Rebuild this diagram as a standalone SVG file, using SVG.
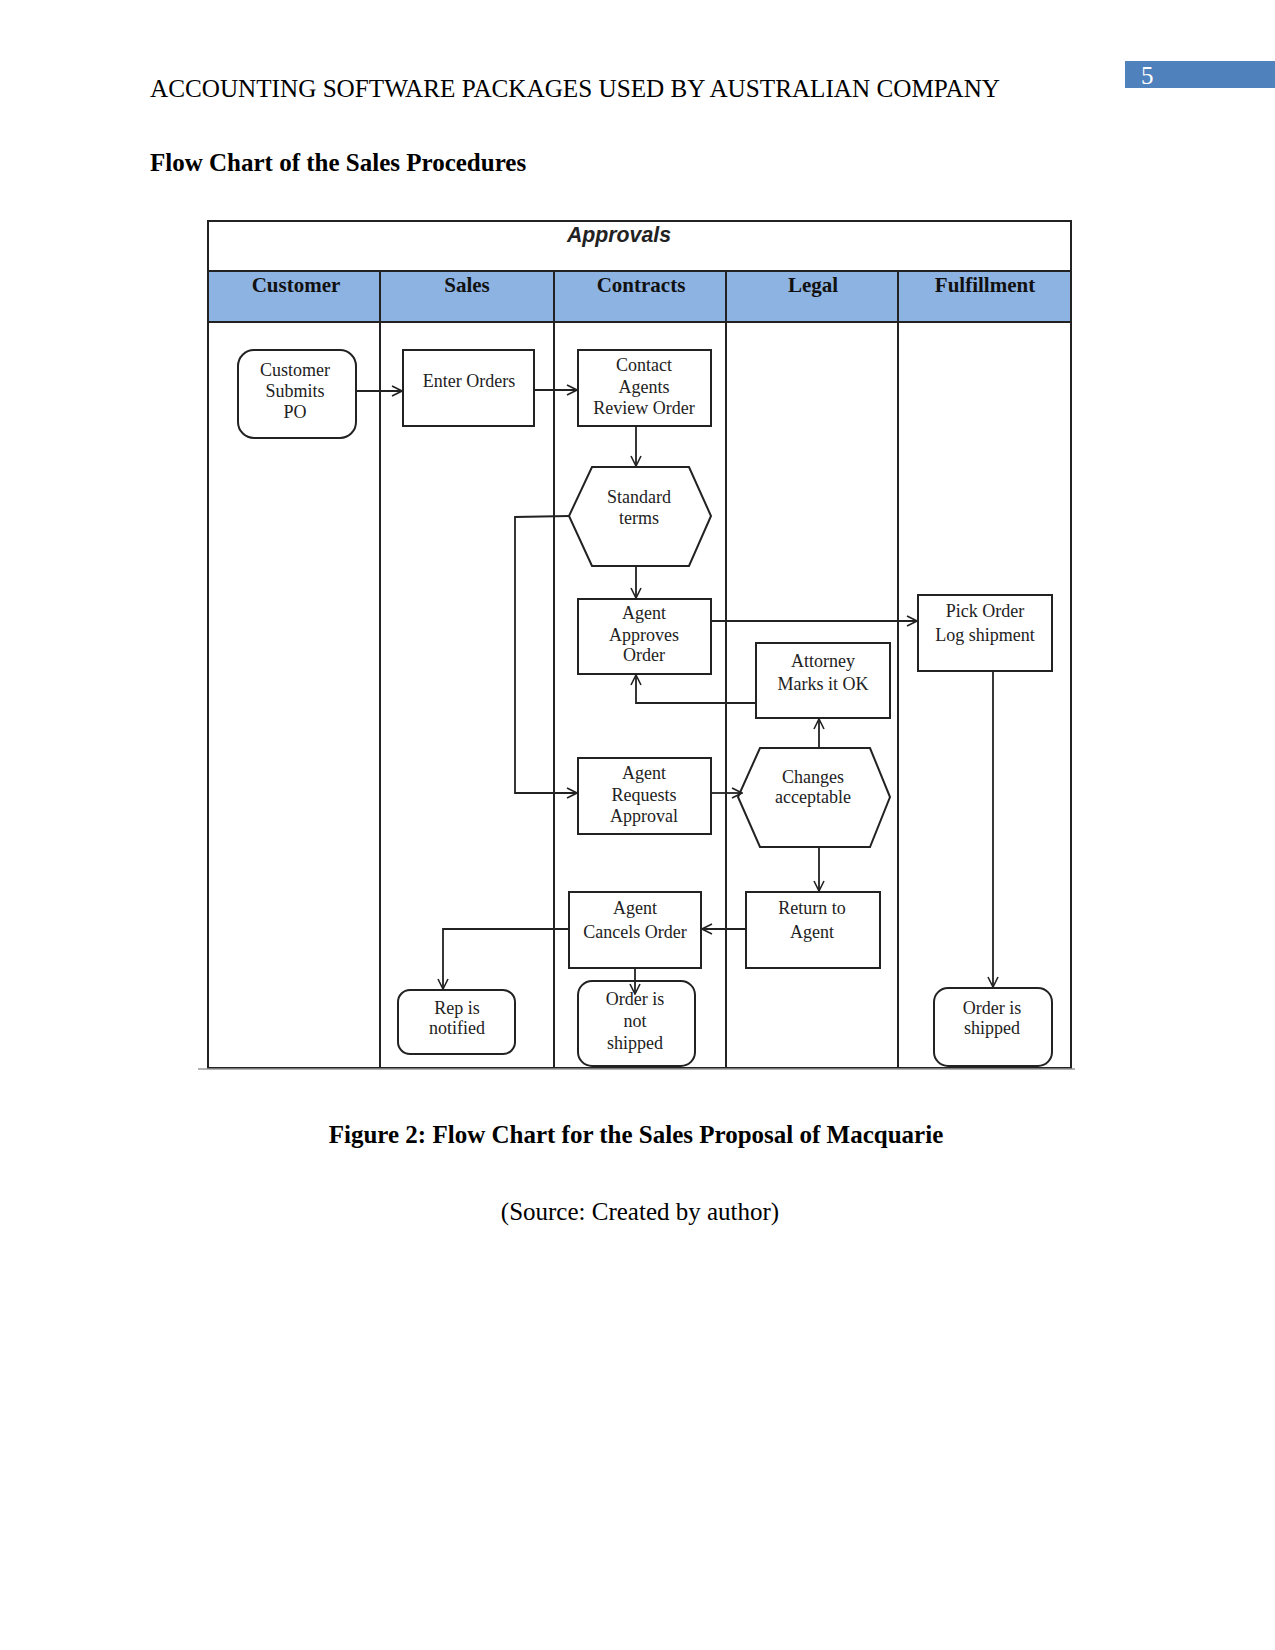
<svg xmlns="http://www.w3.org/2000/svg" width="1275" height="1650" viewBox="0 0 1275 1650">
<defs>
<style>
.page{font-family:"Liberation Serif","Times New Roman",serif;font-size:25px;fill:#000}
.bold{font-weight:bold}
.col{font-family:"Liberation Serif",serif;font-weight:bold;font-size:21px;fill:#111;text-anchor:middle}
.node{fill:#fff;stroke:#222;stroke-width:2}
.nt{font-family:"Liberation Serif",serif;font-size:18px;fill:#222;text-anchor:middle;dominant-baseline:central}
.grid{fill:none;stroke:#222;stroke-width:2}
.conn{fill:none;stroke:#222;stroke-width:1.8}
</style>
<marker id="arr" viewBox="0 0 12 12" refX="11" refY="6" markerWidth="12" markerHeight="12" markerUnits="userSpaceOnUse" orient="auto">
<polyline points="1,1 11,6 1,11" fill="none" stroke="#222" stroke-width="1.6"/>
</marker>
</defs>
<rect width="1275" height="1650" fill="#fff"/>

<!-- page header -->
<text class="page" x="150" y="97" textLength="850" lengthAdjust="spacingAndGlyphs">ACCOUNTING SOFTWARE PACKAGES USED BY AUSTRALIAN COMPANY</text>
<rect x="1125" y="61" width="150" height="27" fill="#4F81BD"/>
<text x="1141" y="84" font-family="Liberation Serif,serif" font-size="25" fill="#fff">5</text>
<text class="page bold" x="150" y="171">Flow Chart of the Sales Procedures</text>

<!-- swimlane frame -->
<g id="frame">
<rect x="208" y="221" width="863" height="847" fill="#fff" stroke="#222" stroke-width="2"/>
<rect x="208" y="271" width="863" height="51" fill="#8DB3E2"/>
<line class="grid" x1="208" y1="271" x2="1071" y2="271"/>
<line class="grid" x1="208" y1="322" x2="1071" y2="322"/>
<line class="grid" x1="380" y1="271" x2="380" y2="1068"/>
<line class="grid" x1="554" y1="271" x2="554" y2="1068"/>
<line class="grid" x1="726" y1="271" x2="726" y2="1068"/>
<line class="grid" x1="898" y1="271" x2="898" y2="1068"/>
<rect x="208" y="221" width="863" height="847" fill="none" stroke="#222" stroke-width="2"/>
<line x1="198" y1="1069" x2="1075" y2="1069" stroke="#999" stroke-width="1.5"/>
<text x="619" y="242" font-family="Liberation Sans,Arial,sans-serif" font-style="italic" font-weight="bold" font-size="22" fill="#222" text-anchor="middle" textLength="104" lengthAdjust="spacingAndGlyphs">Approvals</text>
<text class="col" x="296" y="292">Customer</text>
<text class="col" x="467" y="292">Sales</text>
<text class="col" x="641" y="292">Contracts</text>
<text class="col" x="813" y="292">Legal</text>
<text class="col" x="985" y="292">Fulfillment</text>
</g>

<!-- nodes -->
<g id="customer-submits-po">
<rect class="node" x="238" y="350" width="118" height="88" rx="16"/>
<text class="nt" x="295" y="370">Customer</text>
<text class="nt" x="295" y="391">Submits</text>
<text class="nt" x="295" y="412">PO</text>
</g>
<g id="enter-orders">
<rect class="node" x="403" y="350" width="131" height="76"/>
<text class="nt" x="469" y="381">Enter Orders</text>
</g>
<g id="contact-agents">
<rect class="node" x="578" y="350" width="133" height="76"/>
<text class="nt" x="644" y="365">Contact</text>
<text class="nt" x="644" y="387">Agents</text>
<text class="nt" x="644" y="408">Review Order</text>
</g>
<g id="standard-terms">
<polygon class="node" points="592,467 689,467 711,516 689,566 592,566 569,516"/>
<text class="nt" x="639" y="497">Standard</text>
<text class="nt" x="639" y="518">terms</text>
</g>
<g id="agent-approves-order">
<rect class="node" x="578" y="599" width="133" height="75"/>
<text class="nt" x="644" y="613">Agent</text>
<text class="nt" x="644" y="635">Approves</text>
<text class="nt" x="644" y="655">Order</text>
</g>
<g id="attorney-marks-ok">
<rect class="node" x="756" y="643" width="134" height="75"/>
<text class="nt" x="823" y="661">Attorney</text>
<text class="nt" x="823" y="684">Marks it OK</text>
</g>
<g id="pick-order">
<rect class="node" x="918" y="595" width="134" height="76"/>
<text class="nt" x="985" y="611">Pick Order</text>
<text class="nt" x="985" y="635">Log shipment</text>
</g>
<g id="agent-requests-approval">
<rect class="node" x="578" y="758" width="133" height="76"/>
<text class="nt" x="644" y="773">Agent</text>
<text class="nt" x="644" y="795">Requests</text>
<text class="nt" x="644" y="816">Approval</text>
</g>
<g id="changes-acceptable">
<polygon class="node" points="760,748 870,748 890,797 870,847 760,847 738,797"/>
<text class="nt" x="813" y="777">Changes</text>
<text class="nt" x="813" y="797">acceptable</text>
</g>
<g id="return-to-agent">
<rect class="node" x="746" y="892" width="134" height="76"/>
<text class="nt" x="812" y="908">Return to</text>
<text class="nt" x="812" y="932">Agent</text>
</g>
<g id="agent-cancels-order">
<rect class="node" x="569" y="892" width="132" height="76"/>
<text class="nt" x="635" y="908">Agent</text>
<text class="nt" x="635" y="932">Cancels Order</text>
</g>
<g id="rep-notified">
<rect class="node" x="398" y="990" width="117" height="64" rx="12"/>
<text class="nt" x="457" y="1008">Rep is</text>
<text class="nt" x="457" y="1028">notified</text>
</g>
<g id="order-not-shipped">
<rect class="node" x="578" y="981" width="117" height="85" rx="14"/>
<text class="nt" x="635" y="999">Order is</text>
<text class="nt" x="635" y="1021">not</text>
<text class="nt" x="635" y="1043">shipped</text>
</g>
<g id="order-shipped">
<rect class="node" x="934" y="988" width="118" height="78" rx="14"/>
<text class="nt" x="992" y="1008">Order is</text>
<text class="nt" x="992" y="1028">shipped</text>
</g>

<!-- connectors -->
<g id="connectors">
<line class="conn" x1="356" y1="391" x2="402" y2="391" marker-end="url(#arr)"/>
<line class="conn" x1="534" y1="390" x2="577" y2="390" marker-end="url(#arr)"/>
<line class="conn" x1="636" y1="426" x2="636" y2="466" marker-end="url(#arr)"/>
<line class="conn" x1="636" y1="566" x2="636" y2="598" marker-end="url(#arr)"/>
<polyline class="conn" points="569,516 515,517 515,793 577,793" marker-end="url(#arr)"/>
<line class="conn" x1="711" y1="621" x2="917" y2="621" marker-end="url(#arr)"/>
<polyline class="conn" points="756,703 636,703 636,675" marker-end="url(#arr)"/>
<line class="conn" x1="819" y1="748" x2="819" y2="719" marker-end="url(#arr)"/>
<line class="conn" x1="711" y1="793" x2="742" y2="793" marker-end="url(#arr)"/>
<line class="conn" x1="819" y1="847" x2="819" y2="891" marker-end="url(#arr)"/>
<line class="conn" x1="746" y1="929" x2="702" y2="929" marker-end="url(#arr)"/>
<polyline class="conn" points="569,929 443,929 443,989" marker-end="url(#arr)"/>
<line class="conn" x1="635" y1="968" x2="635" y2="994" marker-end="url(#arr)"/>
<line class="conn" x1="993" y1="671" x2="993" y2="987" marker-end="url(#arr)"/>
</g>

<!-- caption -->
<text class="page bold" x="636" y="1143" text-anchor="middle">Figure 2: Flow Chart for the Sales Proposal of Macquarie</text>
<text class="page" x="640" y="1220" text-anchor="middle">(Source: Created by author)</text>
</svg>
